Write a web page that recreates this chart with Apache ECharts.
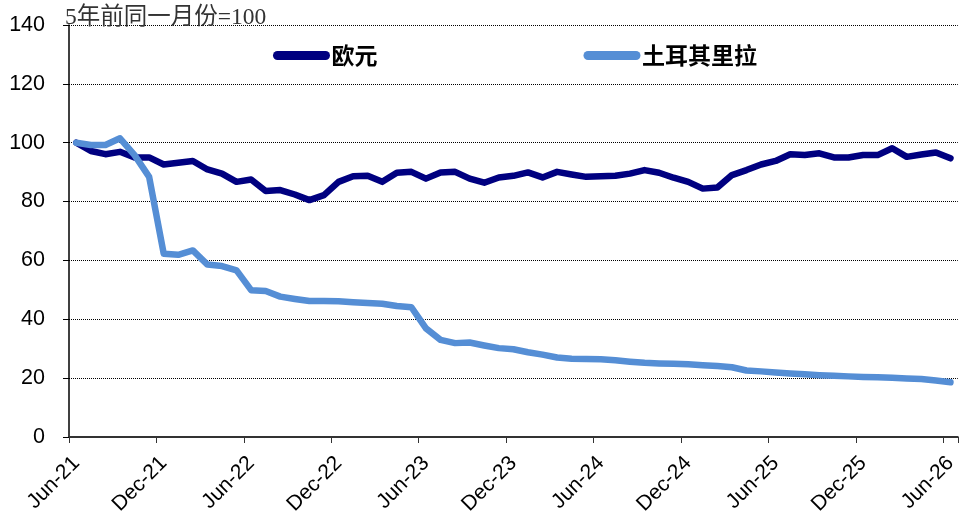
<!DOCTYPE html>
<html>
<head>
<meta charset="utf-8">
<script src="https://cdn.jsdelivr.net/npm/echarts@6/dist/echarts.min.js"></script>
<style>html,body{margin:0;padding:0;background:#fff}#c{width:960px;height:525px}</style>
</head>
<body>
<div id="c"></div>
<script>
var categories = [
 'Jun-21','Jul-21','Aug-21','Sep-21','Oct-21','Nov-21','Dec-21',
 'Jan-22','Feb-22','Mar-22','Apr-22','May-22','Jun-22','Jul-22','Aug-22','Sep-22','Oct-22','Nov-22','Dec-22',
 'Jan-23','Feb-23','Mar-23','Apr-23','May-23','Jun-23','Jul-23','Aug-23','Sep-23','Oct-23','Nov-23','Dec-23',
 'Jan-24','Feb-24','Mar-24','Apr-24','May-24','Jun-24','Jul-24','Aug-24','Sep-24','Oct-24','Nov-24','Dec-24',
 'Jan-25','Feb-25','Mar-25','Apr-25','May-25','Jun-25','Jul-25','Aug-25','Sep-25','Oct-25','Nov-25','Dec-25',
 'Jan-26','Feb-26','Mar-26','Apr-26','May-26','Jun-26'
];
var euro = [
 100, 97.2, 96.1, 96.9, 95.0, 95.0, 92.6,
 93.2, 93.8, 90.9, 89.5, 86.7, 87.5, 83.6, 83.9, 82.4, 80.5, 82.2, 86.7,
 88.6, 88.75, 86.7, 89.8, 90.1, 87.8, 89.9, 90.1, 87.8, 86.4, 88.2, 88.75,
 89.9, 88.2, 90.1, 89.2, 88.4, 88.6, 88.75, 89.5, 90.7, 89.8, 88.1, 86.7,
 84.4, 84.8, 89.0, 90.7, 92.6, 93.8, 96.1, 95.8, 96.4, 95.0, 95.0, 95.8,
 95.8, 98.1, 95.2, 96.0, 96.7, 94.7
];
var lira = [
 100, 99.2, 99.2, 101.5, 95.8, 88.4, 62.3,
 61.9, 63.4, 58.6, 58.1, 56.6, 49.9, 49.6, 47.7, 46.9, 46.2, 46.2, 46.1,
 45.8, 45.5, 45.3, 44.5, 44.1, 36.9, 33.0, 31.9, 32.1, 31.1, 30.2, 29.8,
 28.8, 28.0, 27.0, 26.6, 26.5, 26.4, 26.1, 25.6, 25.2, 25.0, 24.9, 24.7,
 24.4, 24.1, 23.7, 22.6, 22.3, 21.9, 21.6, 21.3, 21.0, 20.8, 20.6, 20.4,
 20.3, 20.1, 19.9, 19.7, 19.2, 18.6
];
var seriesNames = ['欧元', '土耳其里拉'];
var yTicks = { min: 0, max: 140, interval: 20 };
var titleText = '5年前同一月份=100';

var chart = echarts.init(document.getElementById('c'), null, { renderer: 'canvas' });
var capsule = 'path://M4.5,0 L52.5,0 A4.5,4.5 0 0 1 52.5,9 L4.5,9 A4.5,4.5 0 0 1 4.5,0 Z';
chart.setOption({
  animation: false,
  backgroundColor: '#fff',
  title: {
    text: titleText, left: 60, top: 1,
    textStyle: { fontFamily: '"Liberation Serif", "Noto Sans CJK SC", serif', fontSize: 23.5, fontWeight: 'normal', color: '#333' }
  },
  legend: {
    data: seriesNames, left: 268, top: 39, itemWidth: 58, itemHeight: 9, itemGap: 206,
    icon: capsule,
    textStyle: { fontFamily: '"Noto Sans CJK SC", sans-serif', fontSize: 23, fontWeight: 'bold', color: '#000', padding: [0,0,0,-4] }
  },
  grid: { left: 69, top: 25, width: 892.4, height: 412, containLabel: false },
  xAxis: {
    type: 'category', data: categories, boundaryGap: true,
    axisLine: { lineStyle: { color: '#333', width: 2 } },
    axisTick: { show: true, interval: 5, length: 6, lineStyle: { color: '#333', width: 1 } },
    axisLabel: { interval: 5, rotate: 45, margin: 23, fontFamily: '"Liberation Sans", Arial, sans-serif', fontSize: 21, color: '#000' },
    splitLine: { show: false }
  },
  yAxis: {
    type: 'value', min: yTicks.min, max: yTicks.max, interval: yTicks.interval,
    axisLine: { show: true, lineStyle: { color: '#000', width: 1.5 } },
    axisTick: { show: true, length: 6, lineStyle: { color: '#000' } },
    axisLabel: { margin: 24, fontFamily: '"Liberation Sans", Arial, sans-serif', fontSize: 21.5, color: '#000' },
    splitLine: { show: true, lineStyle: { type: 'dotted', color: '#000', width: 1 } }
  },
  series: [
    { name: seriesNames[0], type: 'line', data: euro, showSymbol: false, symbol: 'none', smooth: false,
      color: '#000080', lineStyle: { width: 6.5, color: '#000080', cap: 'round', join: 'round' } },
    { name: seriesNames[1], type: 'line', data: lira, showSymbol: false, symbol: 'none', smooth: false,
      color: '#558ED5', lineStyle: { width: 6.5, color: '#558ED5', cap: 'round', join: 'round' } }
  ]
});
</script>
</body>
</html>
